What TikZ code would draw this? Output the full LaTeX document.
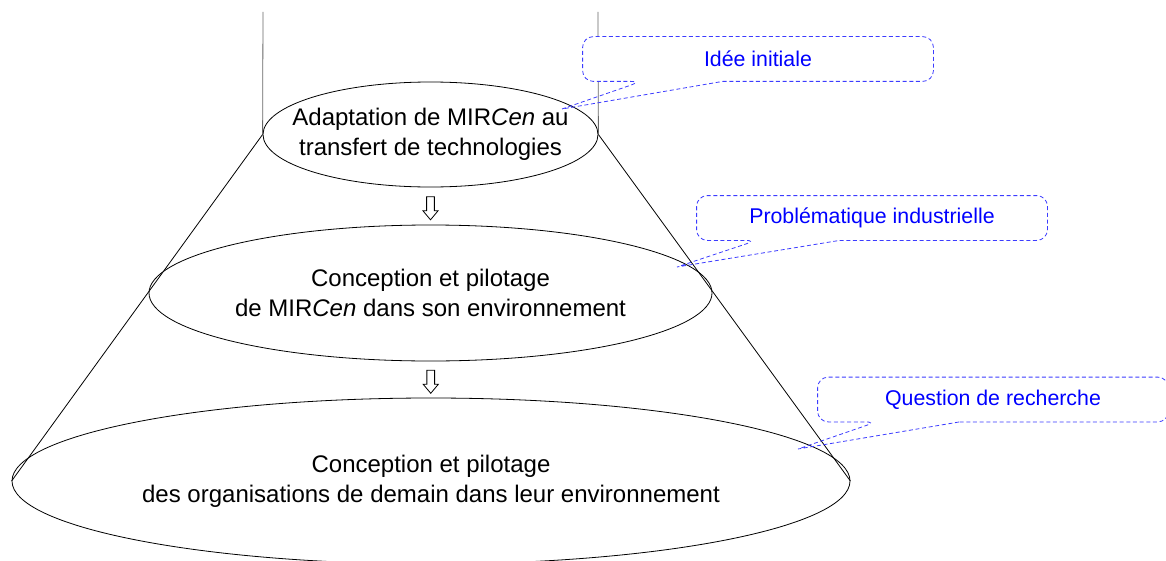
\documentclass[tikz,border=0pt]{standalone}
\usepackage{fontspec}
\setmainfont{Liberation Sans}
\usetikzlibrary{shapes.geometric,shapes.arrows,calc}

\definecolor{noteblue}{RGB}{60,60,255}

\begin{document}
\begin{tikzpicture}[x=0.75pt,y=-0.75pt,line width=0.6pt]
  \tikzstyle{level}=[ellipse,draw=black,inner sep=0pt]
  \tikzstyle{leveltext}=[align=center,inner sep=0pt,font=\fontsize{18}{22.5}\selectfont]
  \tikzstyle{downarrow}=[single arrow,draw=black,fill=white,shape border rotate=270,inner sep=2.6pt,
                         single arrow head extend=2.8pt,single arrow tip angle=80,minimum height=17.25pt]
  \tikzstyle{note}=[rectangle,inner sep=0pt,fill=white,rounded corners=8pt,text=blue,
                    font=\fontsize{16}{19}\selectfont,minimum width=262.5pt,minimum height=33pt]
  \tikzstyle{noteline}=[draw=noteblue,dash pattern=on 3pt off 2pt]

  \useasboundingbox (0,0) rectangle (1166,560);

  \node[level,minimum width=251.25pt,minimum height=78.75pt] (adapt) at (430.5,134.5) {};
  \node[level,minimum width=422.25pt,minimum height=102pt]   (pilot) at (430.5,293)   {};
  \node[level,minimum width=628.5pt,minimum height=124.5pt]  (orga)  at (431,481)     {};

  \node[leveltext] (adapt text) at (adapt) {Adaptation de MIR\textit{Cen} au\\transfert de technologies};
  \node[leveltext] (pilot text) at (pilot) {Conception et pilotage\\de MIR\textit{Cen} dans son environnement};
  \node[leveltext] (orga text)  at (orga)  {Conception et pilotage\\des organisations de demain dans leur environnement};

  \node[downarrow] (arr1) at ($(adapt.south)!0.5!(pilot.north)$) {};
  \node[downarrow] (arr2) at ($(pilot.south)!0.5!(orga.north)$) {};

  \coordinate (topleft)  at (263,12);
  \coordinate (topright) at (598,12);
  \draw[black!60] (topleft) -- (adapt.west);
  \draw[black!60] (topright) -- (adapt.east);
  \draw (adapt.west) -- (orga.west);
  \draw (adapt.east) -- (orga.east);

  % callouts
  \node[note] (idea)  at (758,59)    {Idée initiale};
  \node[note] (prob)  at (872,218)   {Problématique industrielle};
  \node[note] (quest) at (993,399.5) {Question de recherche};

  \coordinate (idea tip)  at (562,109);
  \coordinate (prob tip)  at (677,267);
  \coordinate (quest tip) at (798,449);

  \draw[noteline] ($(idea.south west)+(140,0)$) [rounded corners=8pt] -- (idea.south east) -- (idea.north east)
        -- (idea.north west) -- (idea.south west) -- ($(idea.south west)+(59,0)$) [sharp corners] -- (idea tip) -- cycle;
  \draw[noteline] ($(prob.south west)+(143,0)$) [rounded corners=8pt] -- (prob.south east) -- (prob.north east)
        -- (prob.north west) -- (prob.south west) -- ($(prob.south west)+(60,0)$) [sharp corners] -- (prob tip) -- cycle;
  \draw[noteline] ($(quest.south west)+(142,0)$) [rounded corners=8pt] -- (quest.south east) -- (quest.north east)
        -- (quest.north west) -- (quest.south west) -- ($(quest.south west)+(59,0)$) [sharp corners] -- (quest tip) -- cycle;
\end{tikzpicture}
\end{document}
